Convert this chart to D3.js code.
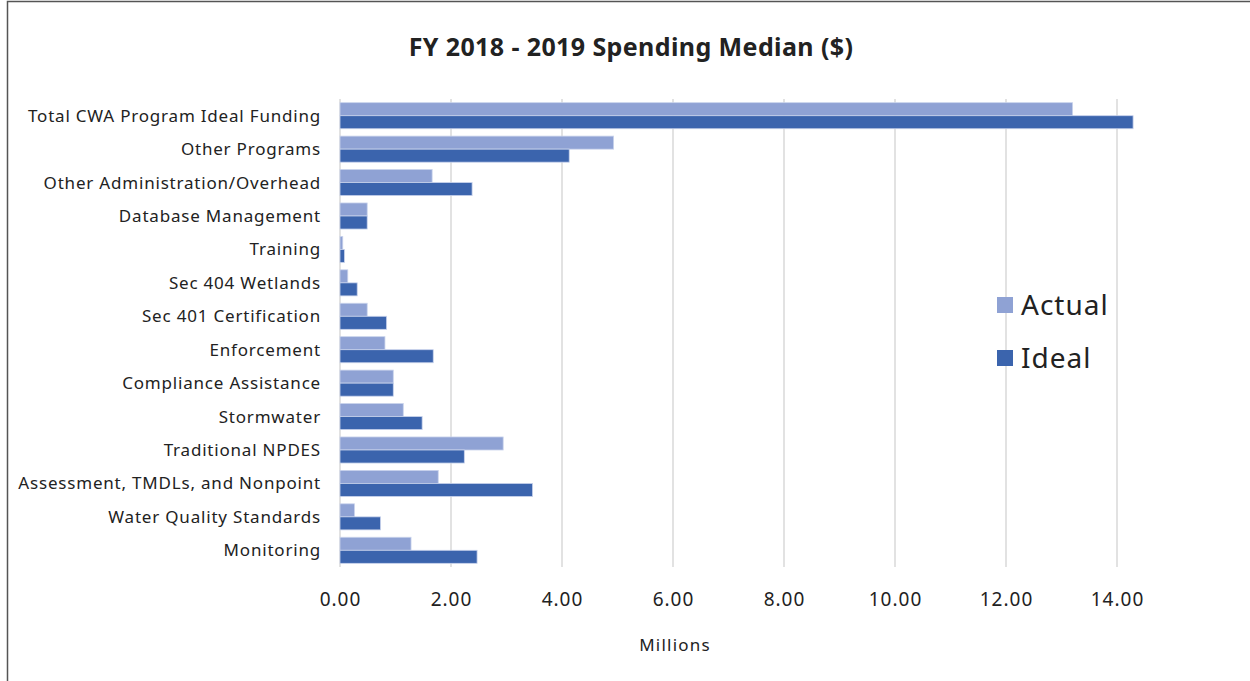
<!DOCTYPE html>
<html>
<head>
<meta charset="utf-8">
<script src="https://cdn.jsdelivr.net/npm/d3@7"></script>
<style>
body { margin:0; background:#fff; }
text { font-family: "Noto Sans", "Open Sans", sans-serif; fill:#222; }
</style>
</head>
<body>
<div id="chart"></div>
<script>
const width = 1250
const height = 681

const categories = [
    "Total CWA Program Ideal Funding",
    "Other Programs",
    "Other Administration/Overhead",
    "Database Management",
    "Training",
    "Sec 404 Wetlands",
    "Sec 401 Certification",
    "Enforcement",
    "Compliance Assistance",
    "Stormwater",
    "Traditional NPDES",
    "Assessment, TMDLs, and Nonpoint",
    "Water Quality Standards",
    "Monitoring"
]
const actual = [13.2, 4.93, 1.66, 0.49, 0.05, 0.14, 0.49, 0.81, 0.96, 1.14, 2.94, 1.77, 0.26, 1.28]
const ideal  = [14.29, 4.13, 2.38, 0.49, 0.08, 0.31, 0.84, 1.68, 0.96, 1.48, 2.24, 3.47, 0.73, 2.47]
const series = ["Actual", "Ideal"]
const tickValues = [0, 2, 4, 6, 8, 10, 12, 14]
const colors = {Actual: "#8FA2D4", Ideal: "#3B64AD"}

const margin = {top: 99, left: 340, bottom: 114, right: 110}

const svg = d3.select("div#chart").append("svg").attr("width", width).attr("height", height)

svg.append("path")
    .attr("d", `M7.5,${height} V1.5 H${width}`)
    .attr("fill", "none").attr("stroke", "#555").attr("stroke-width", 1.5)

const g = svg.append("g").attr("transform", `translate(${margin.left},${margin.top})`)

const x = d3.scaleLinear().domain([0, 14]).range([0, 777])
const y = d3.scaleBand().domain(categories).range([0, height - margin.top - margin.bottom]).paddingInner(0.22).paddingOuter(0.11)
const ySub = d3.scaleBand().domain(series).range([0, y.bandwidth()])

// grid
g.selectAll("line.grid").data(tickValues).enter().append("line")
    .attr("class", "grid")
    .attr("x1", d => x(d)).attr("x2", d => x(d))
    .attr("y1", 0).attr("y2", height - margin.top - margin.bottom)
    .attr("stroke", "#d9d9d9").attr("stroke-width", 1.5)

const data = categories.map((c, i) => ({cat: c, Actual: actual[i], Ideal: ideal[i]}))

const groups = g.selectAll("g.cat").data(data).enter().append("g")
    .attr("class", "cat")
    .attr("transform", d => `translate(0,${y(d.cat)})`)

groups.selectAll("rect").data(d => series.map(s => ({s: s, v: d[s]}))).enter().append("rect")
    .attr("x", x(0))
    .attr("y", d => ySub(d.s))
    .attr("width", d => x(d.v) - x(0))
    .attr("height", ySub.bandwidth())
    .attr("fill", d => colors[d.s])
    .attr("stroke", "#c9d3ec").attr("stroke-width", 0.8)

// category labels
g.selectAll("text.cat").data(categories).enter().append("text")
    .attr("class", "cat")
    .attr("x", -19)
    .attr("y", d => y(d) + y.bandwidth() / 2)
    .attr("dy", "0.35em")
    .attr("text-anchor", "end")
    .style("font-size", "17px").style("letter-spacing", "0.8px")
    .text(d => d)

// x tick labels
const xAxis = d3.axisBottom(x).tickValues(tickValues).tickFormat(d3.format(".2f")).tickSize(0).tickPadding(0)
const xAxisGroup = g.append("g").attr("transform", `translate(0,${height - margin.top - margin.bottom + 25})`).call(xAxis)
xAxisGroup.select(".domain").remove()
xAxisGroup.selectAll("text").style("font-size", "19px").style("font-family", "Noto Sans")
    .style("letter-spacing", "1px").attr("fill", "#222")

svg.append("text")
    .attr("x", 675).attr("y", 651)
    .attr("text-anchor", "middle")
    .style("font-size", "17px").style("letter-spacing", "1.2px")
    .text("Millions")

svg.append("text")
    .attr("x", 631).attr("y", 56)
    .attr("text-anchor", "middle")
    .style("font-size", "25px").style("font-weight", "bold").style("letter-spacing", "0.4px")
    .text("FY 2018 - 2019 Spending Median ($)")

// legend
const legend = svg.append("g").attr("transform", "translate(997,0)")
series.forEach((s, i) => {
    const ly = 305 + i * 53
    legend.append("rect").attr("x", 0).attr("y", ly - 8).attr("width", 16).attr("height", 16).attr("fill", colors[s])
    legend.append("text").attr("x", 24).attr("y", ly).attr("dy", "0.35em")
        .style("font-size", "28px").style("letter-spacing", "1px").attr("fill", "#444").text(s)
})
</script>
</body>
</html>
